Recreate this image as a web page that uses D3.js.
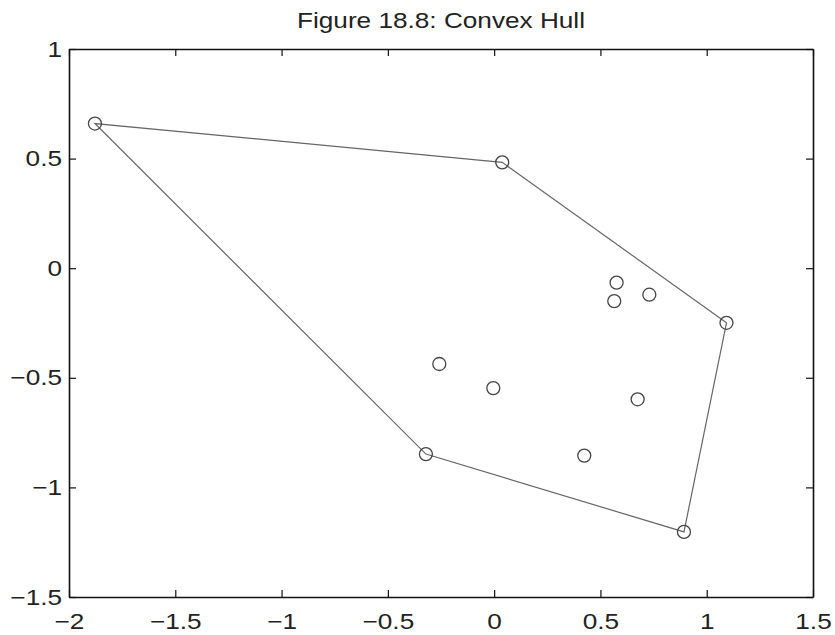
<!DOCTYPE html>
<html>
<head>
<meta charset="utf-8">
<script src="https://cdn.jsdelivr.net/npm/d3@7"></script>
<style>
	body { margin: 0; background: #fff; }
	svg text { font-family: "Liberation Sans", Arial, Helvetica, sans-serif; fill: #222; }
</style>
</head>
<body>
<div id="chart"></div>
<script>
// Point coordinates
var xs = [-1.878, 0.038, 1.093, 0.893, -0.321, 0.576, 0.565, 0.730, -0.258, -0.004, 0.424, 0.675];
var ys = [0.660, 0.483, -0.249, -1.203, -0.848, -0.066, -0.150, -0.121, -0.437, -0.547, -0.855, -0.598];

var xTicks = [-2, -1.5, -1, -0.5, 0, 0.5, 1, 1.5];
var yTicks = [-1.5, -1, -0.5, 0, 0.5, 1];
var title = 'Figure 18.8: Convex Hull';

var W = 835, H = 635;
var margin = { top: 49, right: 22, bottom: 38, left: 69 };
var w = W - margin.left - margin.right;
var h = H - margin.top - margin.bottom;

// the original glyphs look a bit wider than Arial, so stretch text sideways
var fs = 22, sx = 1.19;

var fmt = function(d) { return String(d).replace('-', '\u2212'); };

var svg = d3.select('#chart').append('svg')
	.attr('width', W)
	.attr('height', H);

var plot = svg.append('g')
	.attr('transform', 'translate(' + margin.left + ',' + margin.top + ')');

var xscale = d3.scaleLinear().domain([-2, 1.5]).range([0, w]);
var yscale = d3.scaleLinear().domain([-1.5, 1]).range([h, 0]);

// Hull from the points themselves
var pts = xs.map(function(d, i) { return [d, ys[i]]; });
var hull = d3.polygonHull(pts);

plot.append('path')
	.datum(hull)
	.attr('d', function(d) {
		return d3.line()
			.x(function(p) { return xscale(p[0]); })
			.y(function(p) { return yscale(p[1]); })(d) + 'Z';
	})
	.attr('fill', 'none')
	.attr('stroke', '#666')
	.attr('stroke-width', 1.2);

plot.selectAll('circle')
	.data(pts)
	.enter()
	.append('circle')
	.attr('cx', function(d) { return xscale(d[0]); })
	.attr('cy', function(d) { return yscale(d[1]); })
	.attr('r', 6.5)
	.attr('fill', 'none')
	.attr('stroke', '#444')
	.attr('stroke-width', 1.3);

// Axes, ticks inward on all four sides
var tk = 7;
var axB = d3.axisBottom(xscale).tickValues(xTicks).tickSizeInner(-tk).tickSizeOuter(0).tickPadding(16).tickFormat(fmt);
var axT = d3.axisTop(xscale).tickValues(xTicks).tickSizeInner(-tk).tickSizeOuter(0).tickFormat('');
var axL = d3.axisLeft(yscale).tickValues(yTicks).tickSizeInner(-tk).tickSizeOuter(0).tickPadding(7).tickFormat(fmt);
var axR = d3.axisRight(yscale).tickValues(yTicks).tickSizeInner(-tk).tickSizeOuter(0).tickFormat('');

var gB = plot.append('g').attr('transform', 'translate(0,' + h + ')').call(axB);
var gT = plot.append('g').call(axT);
var gL = plot.append('g').call(axL);
var gR = plot.append('g').attr('transform', 'translate(' + w + ',0)').call(axR);

[gB, gT, gL, gR].forEach(function(g) {
	g.select('.domain').attr('stroke', '#111').attr('stroke-width', 1.6);
	g.selectAll('.tick line').attr('stroke', '#111').attr('stroke-width', 1.2);
	g.selectAll('text')
		.style('font-size', fs + 'px')
		.attr('fill', '#222')
		.attr('x', function() { return (+d3.select(this).attr('x') || 0) / sx; })
		.attr('transform', 'scale(' + sx + ',1)');
});

svg.append('text')
	.attr('x', (margin.left + w / 2) / sx)
	.attr('y', 28)
	.attr('transform', 'scale(' + sx + ',1)')
	.attr('text-anchor', 'middle')
	.style('font-size', fs + 'px')
	.text(title);
</script>
</body>
</html>
